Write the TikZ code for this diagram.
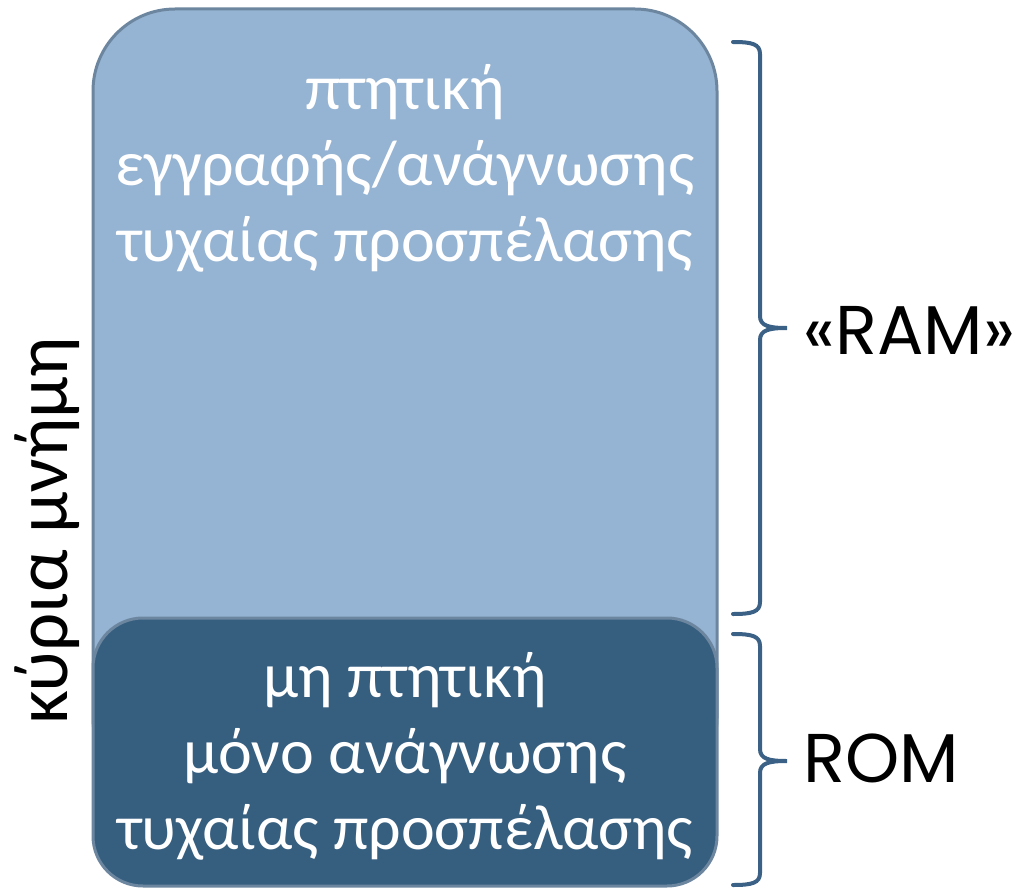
\documentclass[tikz,border=0pt]{standalone}
\usepackage{fontspec}
\setmainfont{Carlito}
\newfontfamily\labelfont{Poppins}
\usepackage{tikz}
\usetikzlibrary{calc}
\usetikzlibrary{positioning}

\definecolor{ramblue}{HTML}{95B3D2}
\definecolor{romblue}{HTML}{365E7F}
\definecolor{boxedge}{HTML}{6C869F}
\definecolor{bracecol}{HTML}{3B6186}

\tikzset{
  membox/.style={draw=boxedge, line width=3pt},
  boxtext/.style={text=white, align=center, font=\fontsize{64}{76}\selectfont},
  sidelabel/.style={text=black, font=\labelfont\fontsize{69}{69}\selectfont},
  memcurly/.style={draw=bracecol, line width=4pt, line cap=round}
}

% right curly brace: x of hooks, x of spine, x of tip, top, middle, bottom
\newcommand{\memcurl}[6]{%
  \draw[memcurly] (#1,#4) .. controls ($(#2,#4)+(-8,0)$) and (#2,#4+2) .. (#2,#4+12)
    -- (#2,#5-12) .. controls (#2,#5-2) and ($(#3,#5)+(-18,0)$) .. (#3,#5)
    .. controls ($(#3,#5)+(-18,0)$) and (#2,#5+2) .. (#2,#5+12)
    -- (#2,#6-12) .. controls (#2,#6-2) and ($(#2,#6)+(-8,0)$) .. (#1,#6);}

\begin{document}
\begin{tikzpicture}[x=1pt,y=-1pt]
  \useasboundingbox (0,0) rectangle (1017,888);
  % boxes
  \draw[membox, fill=ramblue, rounded corners=82pt] (93,9) rectangle (717,800);
  \draw[membox, fill=romblue, rounded corners=50pt] (93,618) rectangle (717,886);
  % texts
  \node[boxtext] (ramtext) at (405,168) {πτητική\\εγγραφής/ανάγνωσης\\τυχαίας προσπέλασης};
  \node[boxtext] (romtext) at (405,756) {μη πτητική\\μόνο ανάγνωσης\\τυχαίας προσπέλασης};
  \node[rotate=90, font=\fontsize{75}{75}\selectfont] (mainmem) at (47,531) {κύρια μνήμη};
  % braces
  \memcurl{733}{760}{787}{42}{328}{614}
  \memcurl{733}{760}{787}{634}{761}{885}
  \node[sidelabel, anchor=west] (ramlabel) at (800,330) {«RAM»};
  \node[sidelabel, anchor=west] (romlabel) at (800,758) {ROM};
\end{tikzpicture}
\end{document}
